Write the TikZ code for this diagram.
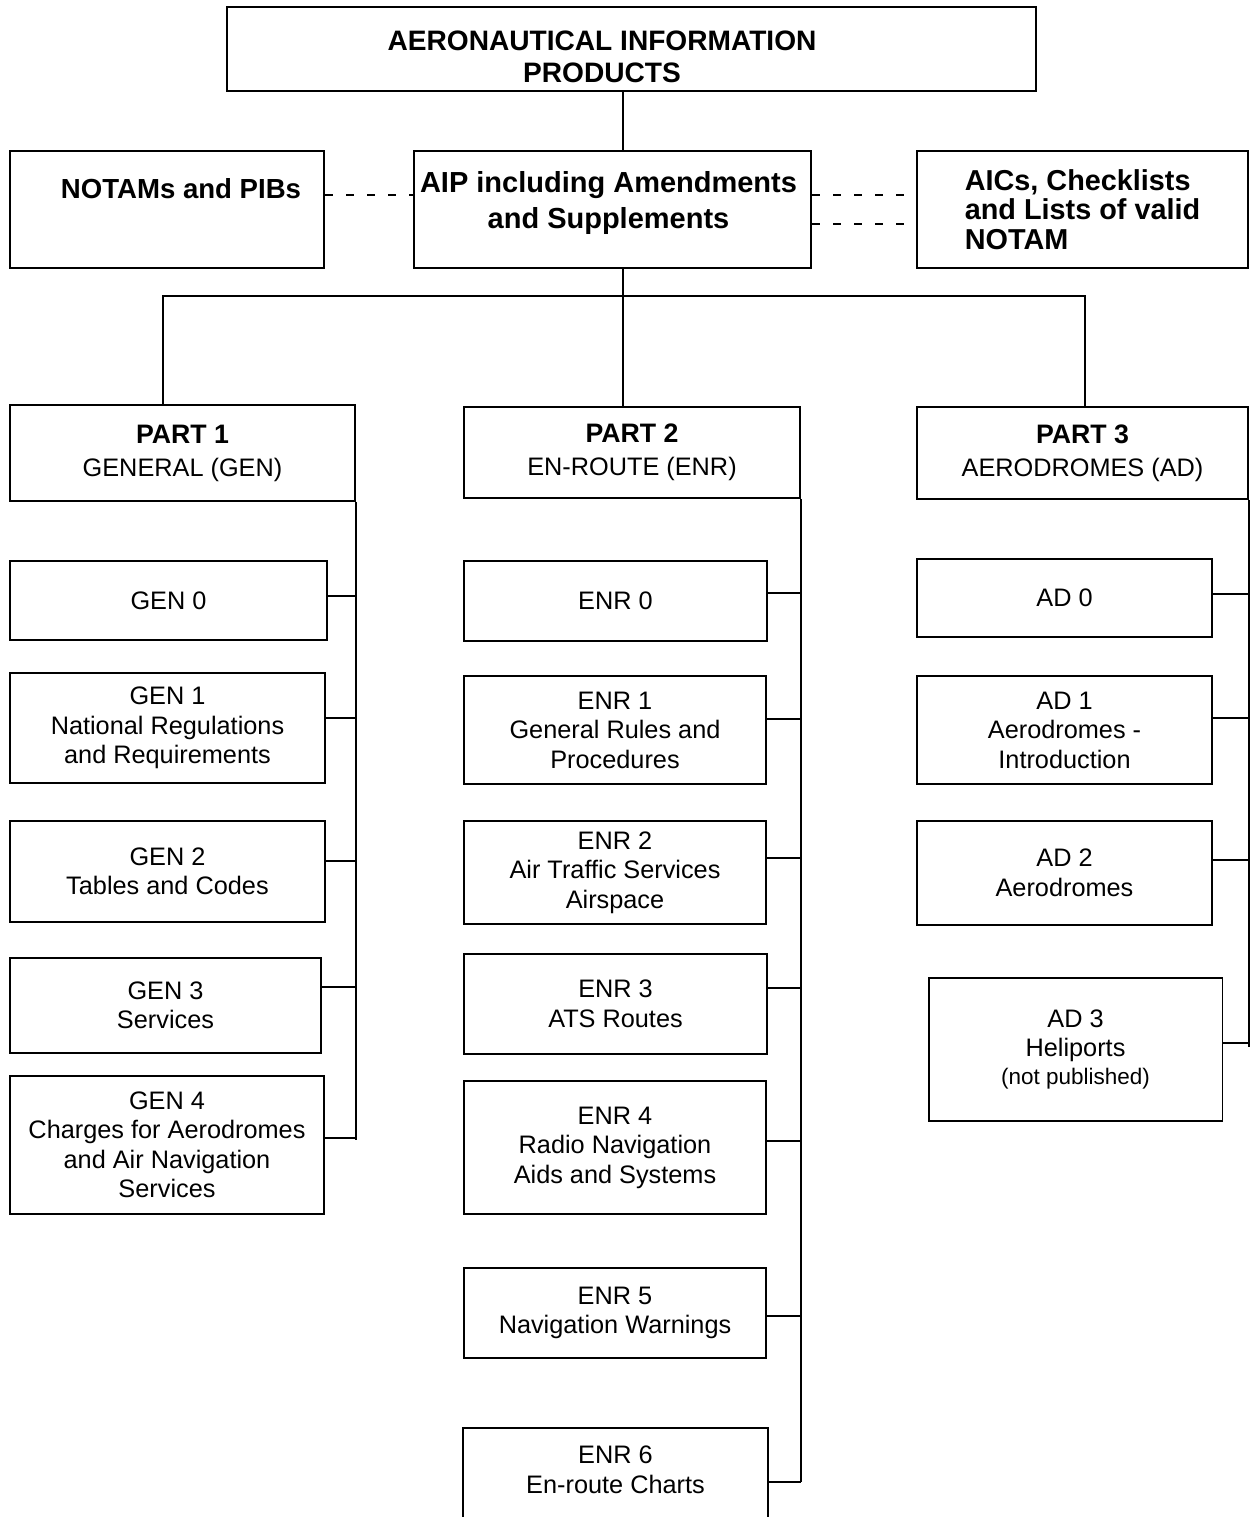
\documentclass[tikz,border=0pt]{standalone}
\usepackage{fontspec}
\setmainfont{Liberation Sans}
\newcommand{\parthead}[1]{{\bfseries\fontsize{15.2}{17}\selectfont #1}}

\begin{document}
\begin{tikzpicture}[x=0.02cm,y=-0.02cm]
\tikzstyle{box}=[draw,line width=1.1pt,inner sep=0pt,align=center,font=\fontsize{14.4}{16.8}\selectfont]
\tikzstyle{bold}=[align=center,font=\bfseries\fontsize{16.4}{16.8}\selectfont]
\tikzstyle{link}=[line width=1.1pt]
\tikzstyle{trunk}=[line width=0.8pt]
\tikzstyle{dots}=[line width=1pt,dash pattern=on 4.5pt off 7.5pt]
\clip (0,0) rectangle (1252,1517);
\fill[white] (0,0) rectangle (1252,1517);
\node[box,minimum width=16.18cm,minimum height=1.68cm,label={[name=productsText,bold,xshift=-0.59cm,yshift=-0.16cm,font=\bfseries\fontsize{16}{18.3}\selectfont]center:AERONAUTICAL INFORMATION\\PRODUCTS}] (products) at (631.5,49) {};
\node[box,minimum width=6.28cm,minimum height=2.34cm,label={[name=notamsText,bold,xshift=0.28cm,yshift=0.41cm,font=\bfseries\fontsize{15.7}{18}\selectfont]center:NOTAMs and PIBs}] (notams) at (167,209.5) {};
\node[box,minimum width=7.94cm,minimum height=2.34cm,label={[name=aipText,bold,xshift=-0.08cm,yshift=0.13cm,font=\bfseries\fontsize{16.5}{21}\selectfont]center:AIP including Amendments\\and Supplements}] (aip) at (612.5,209.5) {};
\node[box,bold,align=left,minimum width=6.62cm,minimum height=2.34cm] (aics) at (1082.5,209.5) {AICs, Checklists\\and Lists of valid\\NOTAM};
\draw[dots] (notams.east |- 0,195) -- (aip.west |- 0,195);
\draw[dots] (aip.east |- 0,195) -- (aics.west |- 0,195);
\draw[dots] (aip.east |- 0,224) -- (aics.west |- 0,224);

\node[box,minimum width=6.9cm,minimum height=1.92cm] (part1) at (182.5,453) {\parthead{PART 1}\\[2pt]GENERAL (GEN)};
\node[box,minimum width=6.72cm,minimum height=1.82cm] (part2) at (632,452.5) {\parthead{PART 2}\\[2pt]EN-ROUTE (ENR)};
\node[box,minimum width=6.62cm,minimum height=1.84cm] (part3) at (1082.5,453) {\parthead{PART 3}\\[2pt]AERODROMES (AD)};
\coordinate (trunk) at (623,296);
\coordinate (busL) at (163,296);
\coordinate (busR) at (1085,296);
\draw[trunk] (trunk |- products.south) -- (trunk |- aip.north);
\draw[trunk] (trunk |- aip.south) -- (trunk |- part2.north);
\draw[link] (busL |- part1.north) -- (busL) -- (busR) -- (busR |- part3.north);

\node[box,minimum width=6.34cm,minimum height=1.58cm] (gen0) at (168.5,600.5) {GEN 0};
\node[box,minimum width=6.30cm,minimum height=2.20cm] (gen1) at (167.5,728) {GEN 1\\National Regulations\\and Requirements};
\node[box,minimum width=6.30cm,minimum height=2.02cm] (gen2) at (167.5,871.5) {GEN 2\\Tables and Codes};
\node[box,minimum width=6.22cm,minimum height=1.90cm] (gen3) at (165.5,1005.5) {GEN 3\\Services};
\node[box,minimum width=6.28cm,minimum height=2.76cm] (gen4) at (167,1145) {GEN 4\\Charges for Aerodromes\\and Air Navigation\\Services};

\node[box,minimum width=6.06cm,minimum height=1.60cm] (enr0) at (615.5,601) {ENR 0};
\node[box,minimum width=6.04cm,minimum height=2.16cm] (enr1) at (615,730) {ENR 1\\General Rules and\\Procedures};
\node[box,minimum width=6.04cm,minimum height=2.06cm] (enr2) at (615,872.5) {ENR 2\\Air Traffic Services\\Airspace};
\node[box,minimum width=6.06cm,minimum height=2.00cm] (enr3) at (615.5,1004) {ENR 3\\ATS Routes};
\node[box,minimum width=6.04cm,minimum height=2.66cm] (enr4) at (615,1147.5) {ENR 4\\Radio Navigation\\Aids and Systems};
\node[box,minimum width=6.04cm,minimum height=1.80cm] (enr5) at (615,1313) {ENR 5\\Navigation Warnings};
\node[box,draw=none,minimum width=6.06cm,minimum height=1.64cm] (enr6) at (615.5,1470) {ENR 6\\En-route Charts};
\draw[link] ([yshift=-2cm]enr6.south west) -- (enr6.north west) -- (enr6.north east) -- ([yshift=-2cm]enr6.south east);

\node[box,minimum width=5.90cm,minimum height=1.56cm] (ad0) at (1064.5,598) {AD 0};
\node[box,minimum width=5.90cm,minimum height=2.16cm] (ad1) at (1064.5,730) {AD 1\\Aerodromes -\\Introduction};
\node[box,minimum width=5.90cm,minimum height=2.08cm] (ad2) at (1064.5,873) {AD 2\\Aerodromes};
\node[box,minimum width=5.88cm,minimum height=2.86cm] (ad3) at (1075.5,1049.5) {AD 3\\Heliports\\[-1pt]{\fontsize{12.8}{15}\selectfont (not published)}};

\draw[link] (part1.south east) -- (part1.south east |- 0,1140);
\draw[link] (part2.south east) -- (part2.south east |- 0,1482);
\draw[link] (part3.south east) -- (part3.south east |- 0,1047);
\foreach \n/\y in {gen0/596,gen1/718,gen2/861,gen3/987,gen4/1138}
  \draw[link] (\n.east |- 0,\y) -- (part1.east |- 0,\y);
\foreach \n/\y in {enr0/593,enr1/719,enr2/858,enr3/988,enr4/1141,enr5/1316,enr6/1482}
  \draw[link] (\n.east |- 0,\y) -- (part2.east |- 0,\y);
\foreach \n/\y in {ad0/594,ad1/718,ad2/860,ad3/1043}
  \draw[link] (\n.east |- 0,\y) -- (part3.east |- 0,\y);
\end{tikzpicture}
\end{document}
